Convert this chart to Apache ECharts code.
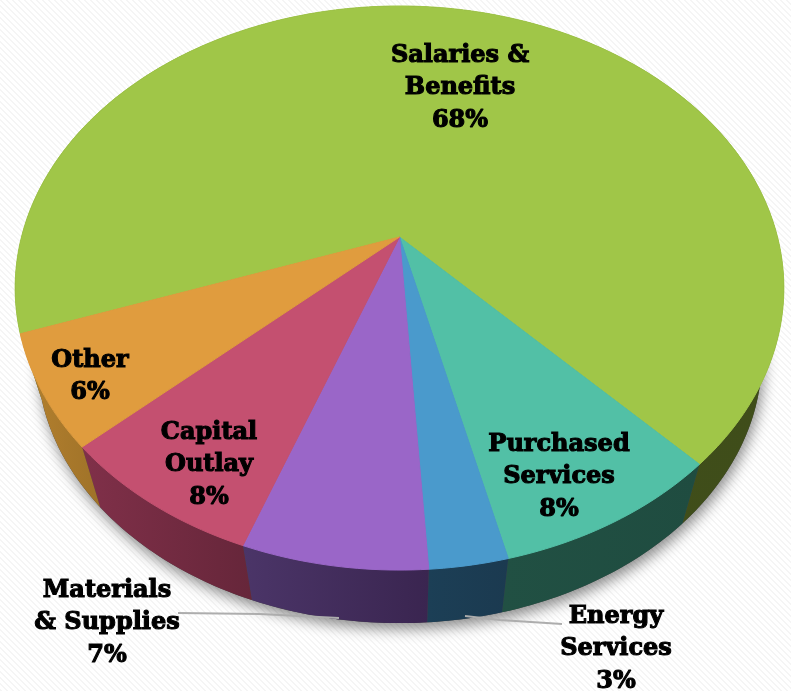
<!DOCTYPE html>
<html>
<head>
<meta charset="utf-8">
<style>html,body{margin:0;padding:0;background:#fff}#chart{width:791px;height:691px}</style>
<script src="https://cdn.jsdelivr.net/npm/echarts@6/dist/echarts.min.js"></script>
</head>
<body>
<div id="chart"></div>
<script>
var categories = ['Salaries &\nBenefits', 'Purchased\nServices', 'Energy\nServices', 'Materials\n& Supplies', 'Capital\nOutlay', 'Other'];
var shares = [68.3, 8.3, 2.8, 6.6, 7.6, 6.4];

var topColors = ['#a0c648', '#52c0a6', '#4a9acc', '#9a66c8', '#c45070', '#e09c3e'];
var wallLeft = ['#415019', '#215043', '#1c3f56', '#4b3568', '#803049', '#b5812f'];
var wallRight = ['#3f4d1a', '#1f4c40', '#1b3a50', '#3a2550', '#66263a', '#9f7228'];
var labelAnchors = [[460, 53], [559, 442], [616, 614], [107, 588], [209, 430], [90, 358]];
var leaders = [null, null, [[465, 616], [500, 620], [562, 624]], [[178, 613], [260, 614], [339, 618]], null, null];

// view of the disc: circle angle to screen point, with perspective
var CX = 399.5, CY = 237, A = 378, B = 272.8, K = 0.1809;
var SINK = 0.943, VX = 400, VY = 1501;
var START = 46.4;

function rim(deg) {
  var t = deg * Math.PI / 180, u = Math.cos(t), v = Math.sin(t), d = 1 - K * v;
  return [CX + A * u / d, CY + B * v / d];
}
function sunk(p) {
  return [VX + (p[0] - VX) * SINK, VY + (p[1] - VY) * SINK];
}
function arc(from, to) {
  var pts = [], n = Math.max(2, Math.ceil(Math.abs(to - from)));
  for (var i = 0; i <= n; i++) pts.push(rim(from + (to - from) * i / n));
  return pts;
}

var total = shares.reduce(function (a, b) { return a + b; }, 0);
// purchased services sits right after the start, salaries wraps round the back
var order = [1, 2, 3, 4, 5, 0];
var startAngles = {};
var acc = START;
order.forEach(function (i) {
  startAngles[i] = acc;
  acc += shares[i] / total * 360;
});

function renderSlice(params, api) {
  var i = params.dataIndex;
  var a0 = startAngles[i], a1 = a0 + api.value(0) / total * 360;
  var edge = arc(a0, a1);
  var bottom = edge.map(sunk).reverse();
  var children = [];

  if (i === 0) {
    // drop shadow under the whole disc
    children.push({
      type: 'polygon', z2: 0, silent: true,
      shape: { points: arc(0, 360).map(sunk) },
      style: { fill: '#444', shadowColor: 'rgba(0,0,0,0.45)', shadowBlur: 14, shadowOffsetX: 2, shadowOffsetY: 6 }
    });
  }

  children.push({
    type: 'polygon', z2: 1,
    shape: { points: edge.concat(bottom) },
    style: {
      fill: new echarts.graphic.LinearGradient(0, 0, 1, 0, [
        { offset: 0, color: wallLeft[i] }, { offset: 1, color: wallRight[i] }
      ])
    }
  });
  children.push({
    type: 'polygon', z2: 2,
    shape: { points: [[CX, CY]].concat(edge) },
    style: { fill: topColors[i], stroke: topColors[i], lineWidth: 1 }
  });

  if (leaders[i]) {
    children.push({
      type: 'polyline', z2: 3, silent: true,
      shape: { points: leaders[i] },
      style: { fill: null, stroke: '#adadad', lineWidth: 2 }
    });
  }
  children.push({
    type: 'text', z2: 4, silent: true,
    x: labelAnchors[i][0], y: labelAnchors[i][1] - 13.5,
    style: {
      text: api.value(1),
      font: 'bold 24px "DejaVu Serif"',
      lineHeight: 32.5,
      fill: '#000', stroke: '#000', lineWidth: 1.1,
      align: 'center', verticalAlign: 'top'
    }
  });
  return { type: 'group', children: children };
}

function stripes() {
  var c = document.createElement('canvas');
  c.width = c.height = 6;
  var g = c.getContext('2d');
  g.fillStyle = '#ffffff';
  g.fillRect(0, 0, 6, 6);
  g.fillStyle = '#f5f5f5';
  for (var n = 0; n < 6; n++) {
    g.fillRect(n, n, 1, 1);
    g.fillRect((n + 1) % 6, n, 1, 1);
  }
  return c;
}

var chart = echarts.init(document.getElementById('chart'), null, { renderer: 'canvas' });
chart.setOption({
  backgroundColor: { image: stripes(), repeat: 'repeat' },
  animation: false,
  series: [{
    type: 'custom',
    coordinateSystem: 'none',
    renderItem: renderSlice,
    dimensions: ['share', 'label'],
    data: categories.map(function (name, i) {
      return [shares[i], name + '\n' + Math.round(shares[i]) + '%'];
    })
  }]
});
</script>
</body>
</html>
